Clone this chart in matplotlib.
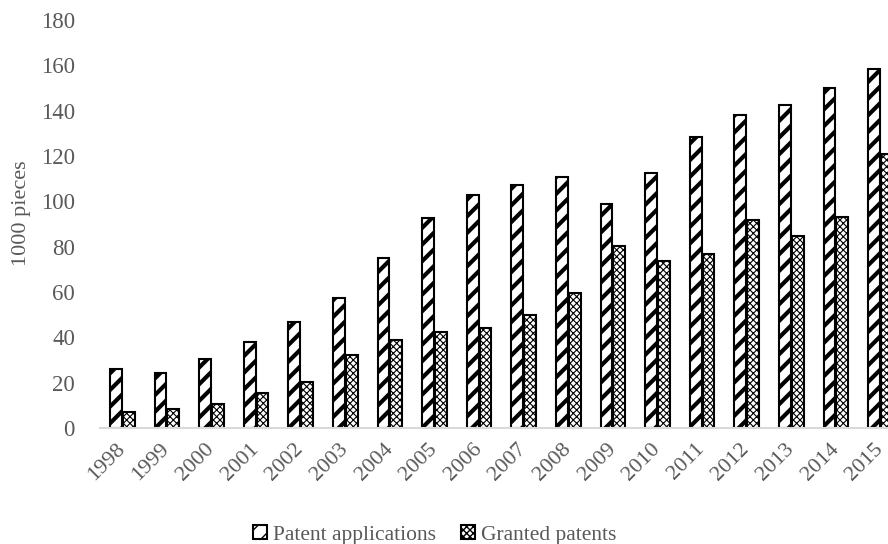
import numpy as np
import matplotlib.pyplot as plt

plt.rcParams['font.family'] = ['Liberation Serif', 'DejaVu Serif']

years = ['1998', '1999', '2000', '2001', '2002', '2003', '2004', '2005', '2006',
         '2007', '2008', '2009', '2010', '2011', '2012', '2013', '2014', '2015']
applications = [26.0, 24.4, 30.5, 37.9, 46.9, 57.2, 75.0, 92.8, 102.6,
                107.0, 110.8, 98.8, 112.6, 128.4, 138.0, 142.3, 150.2, 158.6]
granted = [6.9, 8.3, 10.4, 15.3, 20.3, 32.4, 38.9, 42.3, 44.1,
           50.0, 59.4, 80.2, 73.9, 76.6, 91.8, 84.5, 93.0, 120.8]

fig = plt.figure(figsize=(8.88, 5.44), dpi=100)
ax = fig.add_axes([0.1126, 0.2132, 0.887, 0.75])

x = np.arange(len(years))
w = 0.265

with plt.rc_context({'hatch.linewidth': 3.0}):
    b1 = ax.bar(x - w / 2 - 0.01, applications, width=w, color='white',
                edgecolor='black', linewidth=1.5, hatch='//',
                label='Patent applications')
with plt.rc_context({'hatch.linewidth': 0.8}):
    b2 = ax.bar(x + w / 2 + 0.01, granted, width=w, color='white',
                edgecolor='black', linewidth=1.5, hatch='xxxxx',
                label='Granted patents')

ax.set_ylim(0, 180)
ax.set_xlim(-0.5, 17.16)
ax.set_yticks(np.arange(0, 181, 20))
ax.set_xticks(x)
ax.set_xticklabels(years, rotation=45, ha='right', va='center',
                   rotation_mode='anchor')

for s in ['top', 'right', 'left']:
    ax.spines[s].set_visible(False)
ax.spines['bottom'].set_color('#d9d9d9')
ax.spines['bottom'].set_linewidth(1.5)
ax.tick_params(axis='y', length=0, labelsize=16.5, colors='#595959', pad=18)
ax.tick_params(axis='x', length=0, labelsize=16, colors='#595959', pad=13)

ax.set_ylabel('1000 pieces', fontsize=16, color='#595959')
ax.yaxis.set_label_coords(-0.087, 0.527)

leg = ax.legend(loc='center', bbox_to_anchor=(0.425, -0.262), ncol=2,
                frameon=False, fontsize=15.5, handlelength=0.65, handleheight=0.65,
                handletextpad=0.25, columnspacing=1.2, labelcolor='#595959')

fig.savefig('out.png', dpi=100)
